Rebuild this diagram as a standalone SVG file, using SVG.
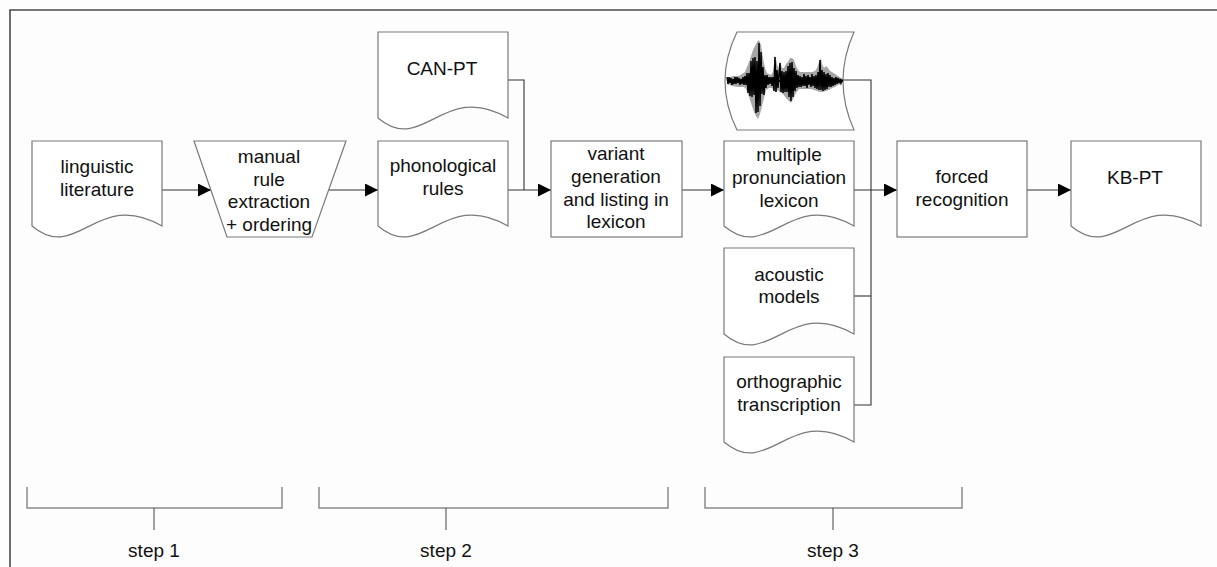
<svg xmlns="http://www.w3.org/2000/svg" width="1217" height="567" viewBox="0 0 1217 567">
  <defs>
    <style>
      .shape { fill: #ffffff; stroke: #7a7a7a; stroke-width: 1.2; }
      .label { font-family: "Liberation Sans", Arial, sans-serif; font-size: 19px; fill: #111111; text-anchor: middle; }
      .conn { fill: none; stroke: #333333; stroke-width: 1.1; }
      .arrow { fill: none; stroke: #333333; stroke-width: 1.1; marker-end: url(#head); }
      .bracket { fill: none; stroke: #8a8a8a; stroke-width: 1.5; }
      .tick { fill: none; stroke: #444444; stroke-width: 1; }
      .frame { fill: none; stroke: #4a4a4a; stroke-width: 1.6; }
    </style>
    <marker id="head" markerUnits="userSpaceOnUse" markerWidth="13" markerHeight="13" refX="13" refY="6.5" orient="auto">
      <path d="M0,0 L13,6.5 L0,13 Z" fill="#000000"/>
    </marker>
  </defs>

  <rect x="0" y="0" width="1217" height="567" fill="#fdfdfd"/>

  <!-- outer frame (top and left edges) -->
  <path class="frame" d="M10,567 V10 H1217"/>

  <!-- connectors -->
  <g id="connectors">
    <path class="arrow" d="M162,190 H211"/>
    <path class="arrow" d="M329,190 H378"/>
    <path class="conn" d="M496,80 H524 V190"/>
    <path class="arrow" d="M508,190 H551"/>
    <path class="arrow" d="M682,190 H724"/>
    <path class="conn" d="M843,80 H871 V405 H854"/>
    <path class="conn" d="M854,296 H871"/>
    <path class="arrow" d="M854,190 H897"/>
    <path class="arrow" d="M1027,190 H1071"/>
  </g>

  <!-- step 1 -->
  <g id="linguistic-literature">
    <path class="shape" d="M32,141 H162 V226 C97,188 77,264 32,226 Z"/>
    <text class="label" x="97" y="173">linguistic</text>
    <text class="label" x="97" y="196">literature</text>
  </g>

  <g id="manual-rule-extraction">
    <path class="shape" d="M194,141 H346 L312,237 H227 Z"/>
    <text class="label" x="269" y="163">manual</text>
    <text class="label" x="269" y="185.5">rule</text>
    <text class="label" x="269" y="208">extraction</text>
    <text class="label" x="269" y="230.5">+ ordering</text>
  </g>

  <!-- step 2 -->
  <g id="can-pt">
    <path class="shape" d="M378,32 H508 V118 C443,80 423,156 378,118 Z"/>
    <text class="label" x="442" y="75">CAN-PT</text>
  </g>

  <g id="phonological-rules">
    <path class="shape" d="M378,141 H508 V226 C443,188 423,264 378,226 Z"/>
    <text class="label" x="443" y="172">phonological</text>
    <text class="label" x="443" y="195">rules</text>
  </g>

  <g id="variant-generation">
    <rect class="shape" x="551" y="141" width="131" height="96"/>
    <text class="label" x="616" y="160">variant</text>
    <text class="label" x="616" y="182.5">generation</text>
    <text class="label" x="616" y="205.5">and listing in</text>
    <text class="label" x="616" y="228">lexicon</text>
  </g>

  <!-- step 3 -->
  <g id="speech-signal">
    <path class="shape" d="M737,32 H854 Q832,81 854,130 H737 Q713,81 737,32 Z"/>
    <!-- soft halo around the louder bursts -->
    <polygon fill="#6a6a6a" opacity="0.6" points="727,78 733,76 739,76 742,74 745,72 747,67 749,62 751,56 753,50 755,46 757,42 759,40 761,45 763,58 765,68 767,73 771,75 773,72 775,55 777,64 779,70 780,61 782,68 784,68 786,64 788,62 790,58 792,58 794,60 796,66 798,70 800,72 806,72 812,72 815,71 817,68 819,62 821,58 822,64 824,68 826,66 828,68 830,71 832,72 835,74 838,76 841,78 843,80 843,82 841,84 838,85 835,87 832,88 829,90 826,91 823,92 820,92 817,91 811,89 805,89 799,89 796,93 793,99 791,103 789,101 786,98 783,94 780,92 777,90 775,92 772,88 769,88 766,90 764,98 762,106 760,114 758,119 756,116 754,112 752,106 750,100 748,94 746,89 744,87 738,87 732,86 727,84"/>
    <line x1="727" y1="81" x2="843" y2="81" stroke="#000000" stroke-width="2"/>
    <!-- the signal itself -->
    <polyline fill="none" stroke="#000000" stroke-width="1.5" stroke-linejoin="miter" points="727,77 728,84 729,77 730,83 731,78 732,85 733,79 734,84 735,77 736,84 737,77 738,83 739,78 740,85 741,79 742,84 743,77 744,85 745,76 746,85 747,73 748,93 749,73 750,96 751,61 752,97 753,58 754,95 755,57 756,113 757,61 758,112 759,43 760,106 761,52 762,94 763,67 764,95 765,75 766,88 767,75 768,85 769,77 770,84 771,77 772,86 773,77 774,91 775,57 776,92 777,70 778,88 779,74 780,63 781,92 782,71 783,93 784,72 785,92 786,71 787,92 788,66 789,97 790,63 791,101 792,62 793,97 794,68 795,91 796,71 797,88 798,75 799,87 800,76 801,87 802,77 803,86 804,74 805,86 806,76 807,88 808,75 809,85 810,77 811,87 812,74 813,86 814,76 815,88 816,75 817,89 818,72 819,90 820,60 821,90 822,70 823,91 824,72 825,90 826,74 827,89 828,73 829,87 830,75 831,87 832,77 833,86 834,78 835,85 836,77 837,84 838,78 839,83 840,79 841,83 842,80 843,81"/>
  </g>

  <g id="multiple-pronunciation-lexicon">
    <path class="shape" d="M724,141 H854 V226 C789,188 769,264 724,226 Z"/>
    <text class="label" x="789" y="161">multiple</text>
    <text class="label" x="789" y="184">pronunciation</text>
    <text class="label" x="789" y="207">lexicon</text>
  </g>

  <g id="acoustic-models">
    <path class="shape" d="M724,248 H854 V334 C789,296 769,372 724,334 Z"/>
    <text class="label" x="789" y="281">acoustic</text>
    <text class="label" x="789" y="303">models</text>
  </g>

  <g id="orthographic-transcription">
    <path class="shape" d="M724,357 H854 V442 C789,404 769,480 724,442 Z"/>
    <text class="label" x="789" y="388">orthographic</text>
    <text class="label" x="789" y="411">transcription</text>
  </g>

  <g id="forced-recognition">
    <rect class="shape" x="897" y="141" width="130" height="96"/>
    <text class="label" x="962" y="183">forced</text>
    <text class="label" x="962" y="206">recognition</text>
  </g>

  <g id="kb-pt">
    <path class="shape" d="M1071,141 H1201 V226 C1136,188 1116,264 1071,226 Z"/>
    <text class="label" x="1135" y="184">KB-PT</text>
  </g>

  <!-- step brackets -->
  <g id="step-1">
    <path class="bracket" d="M27,487 V508 H282 V487"/>
    <path class="tick" d="M154,508 V530"/>
    <text class="label" x="154" y="557">step 1</text>
  </g>
  <g id="step-2">
    <path class="bracket" d="M319,487 V508 H668 V487"/>
    <path class="tick" d="M446,508 V530"/>
    <text class="label" x="446" y="557">step 2</text>
  </g>
  <g id="step-3">
    <path class="bracket" d="M705,487 V508 H962 V487"/>
    <path class="tick" d="M833,508 V530"/>
    <text class="label" x="833" y="557">step 3</text>
  </g>
</svg>
